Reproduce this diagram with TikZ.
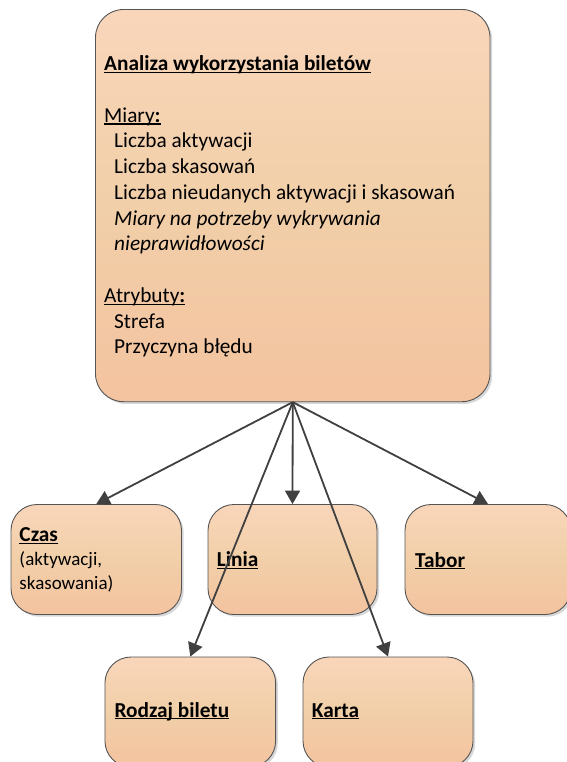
\documentclass[tikz,border=0pt]{standalone}
\usepackage{fontspec}
\setmainfont{Carlito}
\usetikzlibrary{arrows.meta,shadows}

\definecolor{boxtop}{RGB}{249,214,186}
\definecolor{boxmid}{RGB}{241,207,168}
\definecolor{boxbot}{RGB}{244,195,160}
\definecolor{boxline}{RGB}{85,85,85}
\definecolor{linkcol}{RGB}{64,64,64}

% underline at a fixed depth below the baseline
\newcommand\ulword[1]{\setbox0=\hbox{#1}\rlap{\rule[-2.4pt]{\wd0}{1.3pt}}\box0}

\begin{document}
\begin{tikzpicture}[x=1pt,y=-1pt,
  entity/.style={draw=boxline, line width=0.9pt, rounded corners=26pt,
    top color=boxtop, bottom color=boxbot, middle color=boxmid,
    inner sep=0pt, minimum height=110pt,
    drop shadow={shadow xshift=2.2pt, shadow yshift=-2.2pt, opacity=0.22, fill=black!70}},
  bigfont/.style={font=\fontsize{21.3}{25.75}\selectfont},
  smallfont/.style={font=\fontsize{19}{24}\selectfont},
  label/.style={anchor=base west, inner sep=0pt, text=black},
  link/.style={draw=linkcol, line width=1.8pt,
    -{Triangle[length=13.5pt,width=15pt]}}]

\useasboundingbox (0,0) rectangle (566,762);
\fill[white] (0,0) rectangle (566,762);

% fact box
\node[entity, rounded corners=28pt, minimum width=394.5pt, minimum height=392.2pt]
  (main) at (292.75,205.6) {};
\node[label, bigfont] (maintext) at (104,70.7) {\vtop{\halign{#\hfil\cr
  \textbf{\ulword{Analiza wykorzystania biletów}}\cr
  \cr
  \ulword{Miary\textbf{:}}\cr
  \hskip10pt Liczba aktywacji\cr
  \hskip10pt Liczba skasowań\cr
  \hskip10pt Liczba nieudanych aktywacji i skasowań\cr
  \hskip10pt\itshape Miary na potrzeby wykrywania\cr
  \hskip10pt\itshape nieprawidłowości\cr
  \cr
  \ulword{Atrybuty\textbf{:}}\cr
  \hskip10pt Strefa\cr
  \hskip10pt Przyczyna błędu\cr}}};

% dimension boxes
\node[entity, minimum width=170.5pt] (czas) at (96.25,559.5) {};
\node[entity, minimum width=169pt] (linia) at (292.5,559.5) {};
\node[entity, minimum width=166pt] (tabor) at (488,559.5) {};
\node[entity, minimum width=170.7pt] (rodzaj) at (190.3,712) {};
\node[entity, minimum width=170pt] (karta) at (388,712) {};

\node[label, smallfont] (czastext) at (19.3,541.7) {\vtop{\halign{#\hfil\cr
  \fontsize{21.3}{24}\selectfont\bfseries\ulword{Czas}\cr
  (aktywacji,\cr
  skasowania)\cr}}};
\node[label, bigfont] (liniatext) at (216.7,566.7) {\textbf{\ulword{Linia}}};
\node[label, bigfont] (tabortext) at (415,567) {\textbf{\ulword{Tabor}}};
\node[label, bigfont] (rodzajtext) at (114.3,717) {\textbf{\ulword{Rodzaj biletu}}};
\node[label, bigfont] (kartatext) at (311.7,717) {\textbf{\ulword{Karta}}};

% connectors from the fact box to each dimension
\draw[link] (main.south) -- (czas.north);
\draw[link] (main.south) -- (linia.north);
\draw[link] (main.south) -- (tabor.north);
\draw[link] (main.south) -- (rodzaj.north);
\draw[link] (main.south) -- (karta.north);
\end{tikzpicture}
\end{document}
